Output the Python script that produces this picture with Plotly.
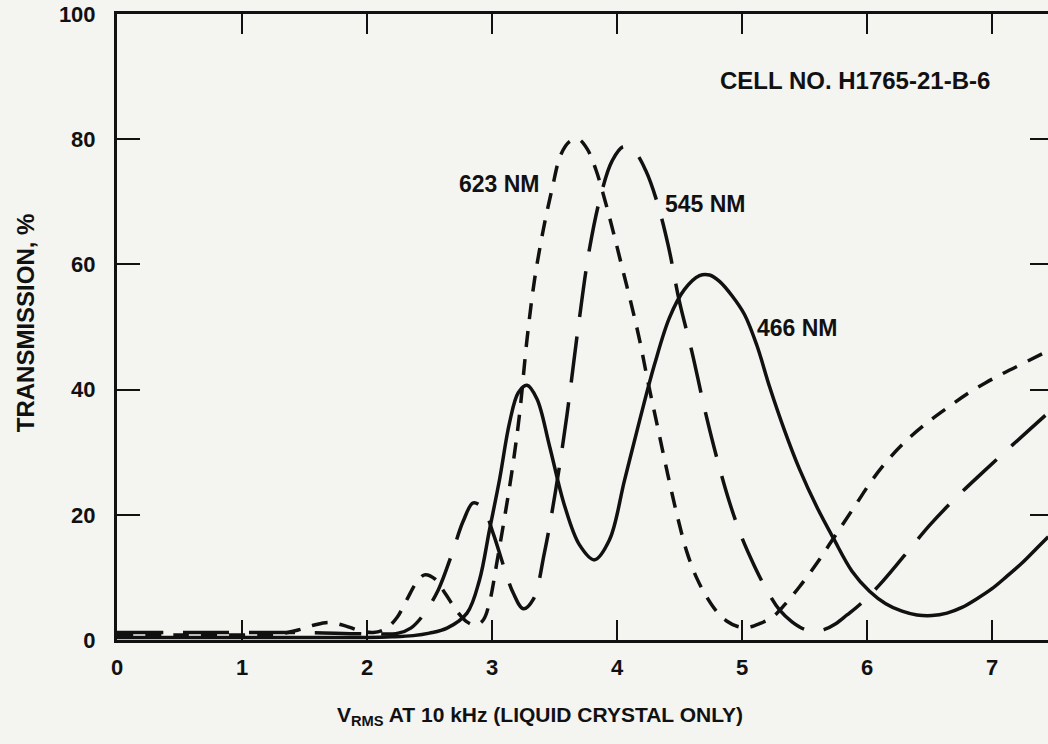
import plotly.graph_objects as go

# Transmission (%) vs RMS drive voltage (V) for three wavelengths
v466 = [0, 0.5, 1.0, 1.5, 2.0, 2.2, 2.37, 2.5, 2.64, 2.8, 2.9, 2.98, 3.06, 3.14, 3.21,
        3.28, 3.36, 3.46, 3.58, 3.7, 3.82, 3.94, 4.06, 4.18, 4.3, 4.42, 4.54, 4.66,
        4.74, 4.82, 4.92, 5.02, 5.12, 5.22, 5.34, 5.46, 5.6, 5.73, 5.88, 6.02, 6.15,
        6.28, 6.4, 6.52, 6.64, 6.76, 6.88, 7.0, 7.12, 7.24, 7.36, 7.45]
t466 = [0.4, 0.4, 0.4, 0.4, 0.4, 0.5, 0.7, 1.1, 1.9, 4.3, 9.6, 17.6, 25.6, 34.7, 39.5,
        40.7, 38.5, 31.0, 21.5, 15.2, 12.8, 16.0, 25.5, 35.0, 44.0, 51.5, 56.0, 58.2,
        58.3, 57.3, 55.0, 52.0, 47.0, 40.5, 33.5, 27.3, 21.2, 16.3, 11.0, 7.8, 5.8,
        4.6, 4.0, 3.9, 4.3, 5.2, 6.6, 8.2, 10.2, 12.3, 14.7, 16.5]

v545 = [0, 0.5, 1.0, 1.5, 2.0, 2.25, 2.35, 2.45, 2.57, 2.68, 2.77, 2.85, 2.93, 3.01,
        3.09, 3.17, 3.25, 3.33, 3.42, 3.51, 3.6, 3.69, 3.78, 3.87, 3.96, 4.05, 4.14,
        4.23, 4.32, 4.41, 4.5, 4.6, 4.7, 4.8, 4.9, 5.0, 5.1, 5.2, 5.3, 5.4, 5.5, 5.58,
        5.66, 5.75, 5.84, 5.95, 6.1, 6.3, 6.5, 6.7, 6.9, 7.1, 7.3, 7.45]
t545 = [1.2, 1.2, 1.2, 1.2, 1.0, 1.1, 1.9, 4.0, 8.0, 13.8, 19.0, 21.9, 21.0, 17.0,
        12.0, 7.5, 5.0, 6.5, 14.0, 24.0, 36.0, 50.0, 62.5, 71.0, 76.5, 78.8, 78.0,
        75.0, 70.0, 63.0, 54.0, 46.0, 37.0, 29.0, 22.0, 16.3, 11.8, 7.9, 4.8, 2.9, 1.7,
        1.4, 1.7, 2.6, 4.0, 5.8, 8.8, 13.5, 18.3, 22.5, 26.3, 30.0, 33.6, 36.3]

v623 = [0, 0.5, 1.0, 1.3, 1.45, 1.58, 1.7, 1.82, 1.94, 2.05, 2.15, 2.24, 2.32, 2.39,
        2.46, 2.54, 2.63, 2.72, 2.8, 2.87, 2.93, 2.98, 3.04, 3.1, 3.16, 3.22, 3.28,
        3.34, 3.41, 3.48, 3.55, 3.62, 3.69, 3.76, 3.83, 3.9, 3.97, 4.04, 4.11, 4.18,
        4.25, 4.32, 4.4, 4.48, 4.56, 4.64, 4.72, 4.8, 4.88, 4.96, 5.04, 5.14, 5.24,
        5.34, 5.46, 5.6, 5.75, 5.9, 6.05, 6.2, 6.35, 6.5, 6.65, 6.8, 6.95, 7.1, 7.25,
        7.45]
t623 = [0.8, 0.8, 0.8, 1.0, 1.6, 2.4, 2.8, 2.3, 1.5, 1.2, 1.8, 3.6, 6.5, 9.0,
        10.4, 9.8, 7.3, 4.6, 2.9, 2.4, 3.2, 6.0, 12.5, 19.5, 27.0, 36.0, 48.0,
        57.5, 65.5, 72.0, 77.5, 79.6, 80.0, 78.5, 75.2, 70.5, 65.2, 59.6, 54.0, 48.0,
        41.0, 34.5, 27.0, 20.0, 14.0, 9.8, 6.8, 4.5, 3.0, 2.2, 2.0, 2.6, 3.6,
        5.6, 8.5, 12.3, 16.8, 21.3, 25.8, 29.5, 32.5, 35.0, 37.2, 39.3, 41.1, 42.7, 44.2,
        46.2]

x_ticks = [0, 1, 2, 3, 4, 5, 6, 7]
y_ticks = [0, 20, 40, 60, 80, 100]

ink = "#111111"
paper = "#f4f4f1"
font_family = "Liberation Sans, Arial, Helvetica, sans-serif"

fig = go.Figure()

fig.add_trace(go.Scatter(
    x=v623, y=t623, mode="lines", name="623 NM",
    line=dict(color=ink, width=3.5, shape="spline", smoothing=1.0, dash="16px,12px"),
))
fig.add_trace(go.Scatter(
    x=v545, y=t545, mode="lines", name="545 NM",
    line=dict(color=ink, width=3.5, shape="spline", smoothing=1.0, dash="46px,20px"),
))
fig.add_trace(go.Scatter(
    x=v466, y=t466, mode="lines", name="466 NM",
    line=dict(color=ink, width=3.5, shape="spline", smoothing=1.0),
))
# carrier for the right-hand tick marks
fig.add_trace(go.Scatter(x=[None], y=[None], yaxis="y2", showlegend=False,
                         hoverinfo="skip"))

tick_font = dict(family=font_family, size=22, color=ink, weight="bold")
label_font = dict(family=font_family, size=23, color=ink, weight="bold")

fig.update_layout(
    width=1048, height=744,
    margin=dict(l=117, r=0, t=14, b=104),
    paper_bgcolor=paper, plot_bgcolor=paper,
    showlegend=False, hovermode=False,
    xaxis=dict(
        range=[0, 7.448], tickvals=x_ticks, ticktext=[str(v) for v in x_ticks],
        ticks="inside", ticklen=20, tickwidth=2, tickcolor=ink,
        showline=True, linewidth=3, linecolor=ink, mirror="ticks",
        showgrid=False, zeroline=False, tickfont=tick_font,
        ticklabelstandoff=6,
    ),
    yaxis=dict(
        range=[0, 100], tickvals=y_ticks, ticktext=[str(v) for v in y_ticks],
        ticks="inside", ticklen=23, tickwidth=2, tickcolor=ink,
        showline=True, linewidth=3, linecolor=ink, mirror=False,
        showgrid=False, zeroline=False, tickfont=tick_font,
        ticklabelstandoff=14,
    ),
    yaxis2=dict(
        range=[0, 100], overlaying="y", side="right", tickvals=y_ticks,
        ticks="inside", ticklen=18, tickwidth=2, tickcolor=ink,
        showticklabels=False, showline=False, showgrid=False, zeroline=False,
    ),
)

# curve labels and cell identification
fig.add_annotation(x=3.056, y=72.8, text="623 NM", showarrow=False, font=label_font)
fig.add_annotation(x=4.71, y=69.6, text="545 NM", showarrow=False, font=label_font)
fig.add_annotation(x=5.44, y=49.8, text="466 NM", showarrow=False, font=label_font)
fig.add_annotation(x=5.9, y=89.3, text="CELL NO. H1765-21-B-6", showarrow=False,
                   font=dict(family=font_family, size=24, color=ink, weight="bold"))

# axis titles
fig.add_annotation(xref="paper", yref="paper", x=-0.0988, y=0.506,
                   text="TRANSMISSION, %", textangle=-90, showarrow=False,
                   xanchor="center", yanchor="middle",
                   font=dict(family=font_family, size=24, color=ink, weight="bold"))
fig.add_annotation(xref="paper", yref="paper", x=0.454, y=-0.122,
                   text="V<sub>RMS</sub> AT 10 kHz (LIQUID CRYSTAL ONLY)",
                   showarrow=False, xanchor="center", yanchor="middle",
                   font=dict(family=font_family, size=21, color=ink, weight="bold"))

fig.write_html("out.html", config={"displayModeBar": False})
